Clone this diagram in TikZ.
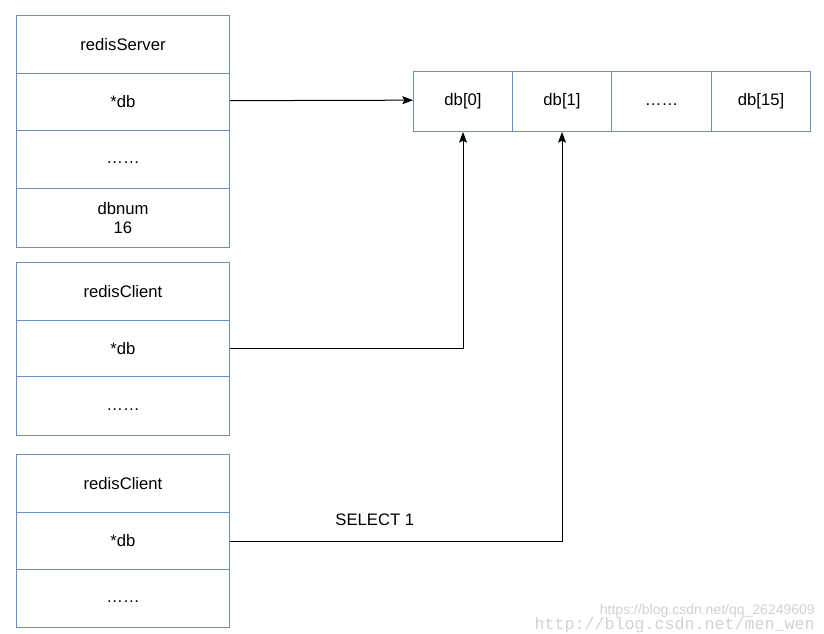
\documentclass[tikz,border=0pt]{standalone}
\usepackage{fontspec}
\setmainfont{Liberation Sans}
\newfontfamily\wmmono{Liberation Mono}
\usetikzlibrary{arrows.meta}
\definecolor{boxblue}{HTML}{6C8EBF}
\newcommand{\dotsrow}{\vphantom{Ag}\ldots\ldots}
\tikzset{
  txt/.style={font=\fontsize{12.5}{14.5}\selectfont},
  cell/.style={draw=boxblue, line width=0.75pt, fill=white, rectangle, inner sep=0pt,
    minimum width=213*0.75pt, txt, align=center},
  acell/.style={draw=boxblue, line width=0.75pt, fill=white, rectangle, inner sep=0pt,
    minimum width=99*0.75pt, minimum height=60*0.75pt, txt},
  conn/.style={draw=black, line width=0.75pt, -{Stealth[length=8pt,width=6pt,inset=1.5pt]}},
  wm/.style={text=black!18, font=\fontsize{10.5}{11}\selectfont, inner sep=0pt}
}
\begin{document}
\begin{tikzpicture}[x=0.75pt,y=-0.75pt]
\useasboundingbox (0,0) rectangle (824,633);
% server
\node[cell, minimum height=58*0.75pt, anchor=north west] (s1) at (16,15) {redisServer};
\node[cell, minimum height=57*0.75pt, anchor=north west] (s2) at (16,73) {*db};
\node[cell, minimum height=58*0.75pt, anchor=north west] (s3) at (16,130) {\dotsrow};
\node[cell, minimum height=59*0.75pt, anchor=north west] (s4) at (16,188) {dbnum\\16};
% client 1
\node[cell, minimum height=58*0.75pt, anchor=north west] (a1) at (16,262) {redisClient};
\node[cell, minimum height=56*0.75pt, anchor=north west] (a2) at (16,320) {*db};
\node[cell, minimum height=59*0.75pt, anchor=north west] (a3) at (16,376) {\dotsrow};
% client 2
\node[cell, minimum height=58*0.75pt, anchor=north west] (b1) at (16,454) {redisClient};
\node[cell, minimum height=57*0.75pt, anchor=north west] (b2) at (16,512) {*db};
\node[cell, minimum height=58*0.75pt, anchor=north west] (b3) at (16,569) {\dotsrow};
% array
\node[acell, anchor=north west] (d0) at (413,71) {db[0]};
\node[acell, anchor=north west] (d1) at (512,71) {db[1]};
\node[acell, anchor=north west, minimum width=100*0.75pt] (dd) at (611,71) {\dotsrow};
\node[acell, anchor=north west] (d15) at (711,71) {db[15]};
% connectors
\draw[conn] ([yshift=1pt]s2.east) -- ([yshift=1pt]d0.west);
\draw[conn] (a2.east) -| (d0.south);
\draw[conn] (b2.east) -| node[pos=0.218, above=11pt, txt, inner sep=0pt] (sel) {SELECT 1} (d1.south);
% watermark
\node[wm, anchor=east] (wm1) at (815,611) {https://blog.csdn.net/qq\_26249609};
\node[wm, anchor=east, font=\wmmono\fontsize{12.5}{13}\selectfont] (wm2) at (815,625) {http://blog.csdn.net/men\_wen};
\end{tikzpicture}
\end{document}
